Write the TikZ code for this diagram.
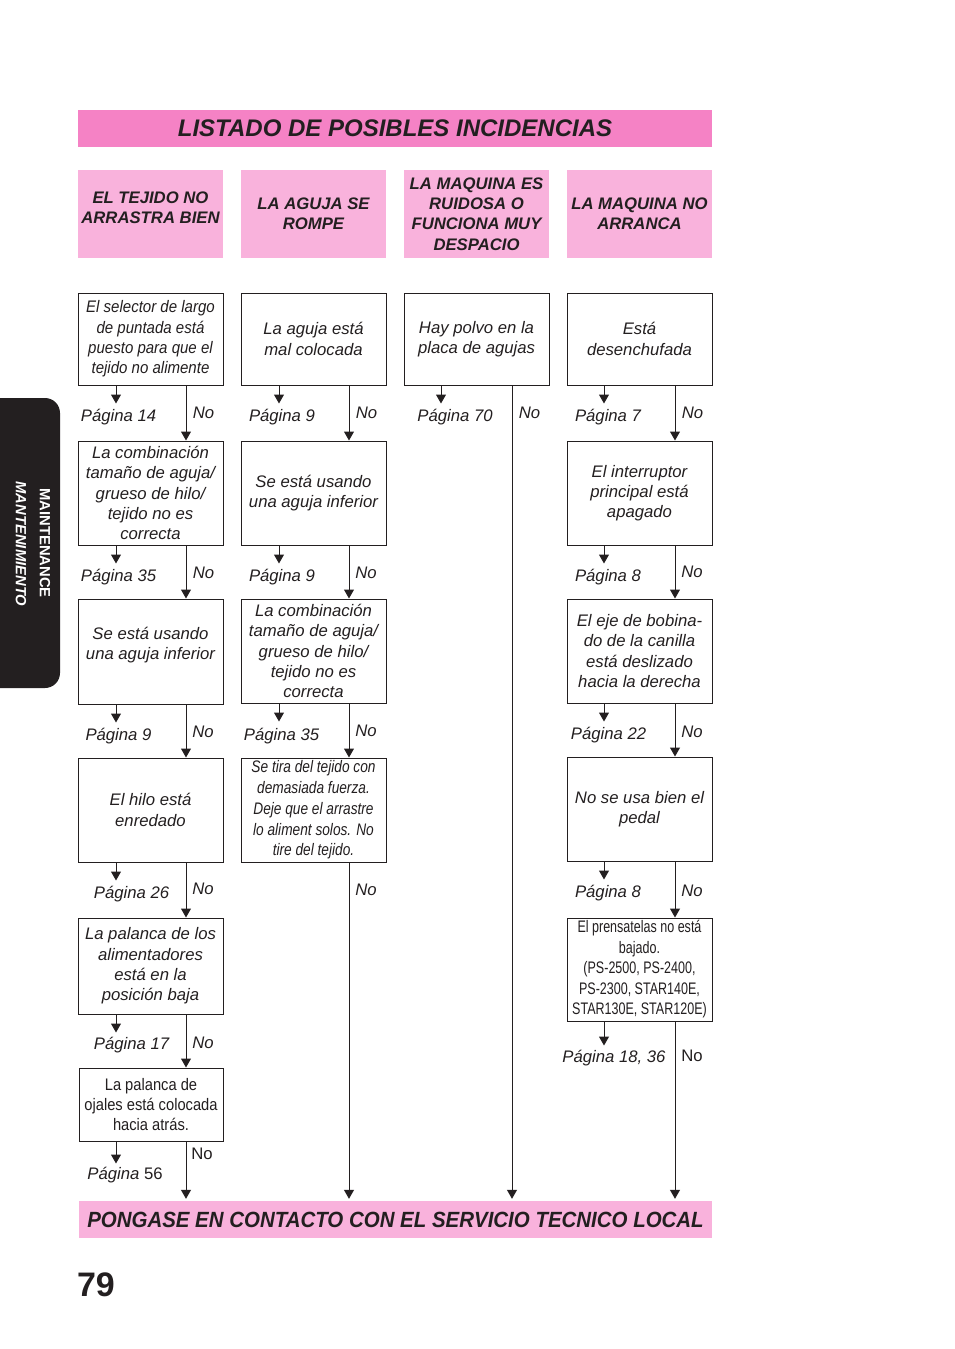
\documentclass[tikz,border=0pt]{standalone}
\usepackage{fontspec}
\setmainfont{Liberation Sans}
\newfontfamily\narrowa[FakeStretch=0.90]{Liberation Sans}
\newfontfamily\narrowb[FakeStretch=0.88]{Liberation Sans}
\newfontfamily\narrowc[FakeStretch=0.82]{Liberation Sans}
\newfontfamily\narrowd[FakeStretch=0.75]{Liberation Sans}
\newfontfamily\narrowbar[FakeStretch=0.93]{Liberation Sans}
\usetikzlibrary{arrows.meta}

\definecolor{titlepink}{RGB}{245,130,197}
\definecolor{headpink}{RGB}{249,178,220}
\definecolor{inkblack}{RGB}{35,31,32}

\newcommand{\bodyfont}{\fontsize{16.7pt}{20.3pt}\selectfont\itshape}
\newcommand{\headfont}{\fontsize{16.7pt}{20.3pt}\selectfont\bfseries\itshape}

\begin{document}
\begin{tikzpicture}[x=1pt, y=-1pt]

    % Stili
    \tikzset{
        box/.style={draw=inkblack, line width=1pt, minimum width=145pt, align=center, inner sep=1pt, text=inkblack, font=\bodyfont},
        head/.style={fill=headpink, minimum width=145pt, minimum height=88pt, align=center, inner sep=0pt, text=inkblack, font=\headfont},
        lab/.style={inner sep=0pt, text=inkblack, font=\bodyfont},
        arr/.style={draw=inkblack, line width=1pt, -{Triangle[width=10pt,length=9pt]}}
    }

    % Pagina
    \fill[white] (0,0) rectangle (954,1349);
    \useasboundingbox (0,0) rectangle (954,1349);

    % Linguetta laterale
    \begin{scope}
        \clip (0,0) rectangle (954,1349);
        \fill[inkblack, rounded corners=15pt] (-30,398) rectangle (60,688);
    \end{scope}
    \node[rotate=-90, text=white, inner sep=0pt, font=\fontsize{14.8pt}{17pt}\selectfont\bfseries] (tabeng) at (45,543) {MAINTENANCE};
    \node[rotate=-90, text=white, inner sep=0pt, font=\fontsize{14.8pt}{17pt}\selectfont\bfseries\itshape] (tabesp) at (21,544) {MANTENIMIENTO};

    % Titolo
    \node[fill=titlepink, minimum width=634pt, minimum height=37pt, inner sep=0pt, text=inkblack, font=\fontsize{24pt}{28pt}\selectfont\bfseries\itshape] (title) at (395,128.5) {LISTADO DE POSIBLES INCIDENCIAS};

    % Intestazioni delle colonne
    \node[head] (ha) at (150.5,214) {EL TEJIDO NO\\ARRASTRA BIEN\\[-8pt]\mbox{}};
    \node[head] (hb) at (313.5,214) {LA AGUJA SE\\ROMPE};
    \node[head] (hc) at (476.5,214) {LA MAQUINA ES\\RUIDOSA O\\FUNCIONA MUY\\DESPACIO};
    \node[head] (hd) at (639.5,214) {LA MAQUINA NO\\ARRANCA};

    % Colonna 1
    \node[box, minimum height=92pt, font={\narrowa\fontsize{16.7pt}{20.3pt}\selectfont\itshape}] (a1) at (150.5,339) {El selector de largo\\de puntada está\\puesto para que el\\tejido no alimente};
    \node[box, minimum height=104pt] (a2) at (150.5,493) {La combinación\\tamaño de aguja/\\grueso de hilo/\\tejido no es\\correcta};
    \node[box, minimum height=105pt] (a3) at (150.5,651.5) {Se está usando\\una aguja inferior\\[-4pt]\mbox{}};
    \node[box, minimum height=104pt] (a4) at (150.5,810) {El hilo está\\enredado};
    \node[box, minimum height=96pt] (a5) at (150.5,966) {La palanca de los\\alimentadores\\está en la\\posición baja};
    \node[box, minimum width=144pt, minimum height=73pt, font={\narrowb\fontsize{16.7pt}{20.3pt}\selectfont}] (a6) at (151,1104.5) {La palanca de\\ojales está colocada\\hacia atrás.};

    % Colonna 2
    \node[box, minimum height=92pt] (b1) at (313.5,339) {La aguja está\\mal colocada};
    \node[box, minimum height=104pt] (b2) at (313.5,493) {Se está usando\\una aguja inferior};
    \node[box, minimum height=104pt] (b3) at (313.5,651) {La combinación\\tamaño de aguja/\\grueso de hilo/\\tejido no es\\correcta};
    \node[box, minimum height=104pt, font={\narrowc\fontsize{16.7pt}{20.7pt}\selectfont\itshape}] (b4) at (313.5,810) {Se tira del tejido con\\demasiada fuerza.\\Deje que el arrastre\\lo aliment solos. No\\tire del tejido.};

    % Colonna 3
    \node[box, minimum height=92pt] (c1) at (476.5,339) {Hay polvo en la\\placa de agujas};

    % Colonna 4
    \node[box, minimum height=92pt] (d1) at (639.5,339) {Está\\desenchufada};
    \node[box, minimum height=104pt] (d2) at (639.5,493) {El interruptor\\principal está\\apagado};
    \node[box, minimum height=104pt] (d3) at (639.5,651) {El eje de bobina-\\do de la canilla\\está deslizado\\hacia la derecha};
    \node[box, minimum height=104pt] (d4) at (639.5,809) {No se usa bien el\\pedal};
    \node[box, minimum height=103pt, font={\narrowd\fontsize{16.7pt}{20.5pt}\selectfont}] (d5) at (639.5,969.5) {El prensatelas no está\\bajado.\\(PS-2500, PS-2400,\\PS-2300, STAR140E,\\STAR130E, STAR120E)};

    % Barra finale
    \node[fill=headpink, minimum width=633pt, minimum height=37pt, inner sep=0pt, text=inkblack, font={\narrowbar\fontsize{22pt}{26pt}\selectfont\bfseries\itshape}] (bar) at (395.5,1219.5) {PONGASE EN CONTACTO CON EL SERVICIO TECNICO LOCAL};

    % Etichette "Página" e "No"
    \node[lab] (pa1) at (118.5,417) {Página 14};
    \node[lab] (na1) at (203.5,413) {No};
    \node[lab] (pa2) at (118.5,577) {Página 35};
    \node[lab] (na2) at (203.5,573) {No};
    \node[lab] (pa3) at (118.5,736) {Página 9};
    \node[lab] (na3) at (203,732) {No};
    \node[lab] (pa4) at (131.5,894) {Página 26};
    \node[lab] (na4) at (203,889) {No};
    \node[lab] (pa5) at (131.5,1045) {Página 17};
    \node[lab] (na5) at (203,1043) {No};
    \node[lab] (pa6) at (125,1175) {Página \upshape 56};
    \node[lab, font=\fontsize{16.7pt}{20.3pt}\selectfont] (na6) at (202,1154) {No};

    \node[lab] (pb1) at (282,417) {Página 9};
    \node[lab] (nb1) at (366.5,413) {No};
    \node[lab] (pb2) at (282,577) {Página 9};
    \node[lab] (nb2) at (366,573) {No};
    \node[lab] (pb3) at (281.5,736) {Página 35};
    \node[lab] (nb3) at (366,731) {No};
    \node[lab] (nb4) at (366,890) {No};

    \node[lab] (pc1) at (455,417) {Página 70};
    \node[lab] (nc1) at (529.5,413) {No};

    \node[lab] (pd1) at (608,417) {Página 7};
    \node[lab] (nd1) at (692.5,413) {No};
    \node[lab] (pd2) at (608,577) {Página 8};
    \node[lab] (nd2) at (692,572) {No};
    \node[lab] (pd3) at (608.5,735) {Página 22};
    \node[lab] (nd3) at (692,732) {No};
    \node[lab] (pd4) at (608,893) {Página 8};
    \node[lab] (nd4) at (692,891) {No};
    \node[lab] (pd5) at (614,1058) {Página 18, 36};
    \node[lab, font=\fontsize{16.7pt}{20.3pt}\selectfont] (nd5) at (692,1056) {No};

    % Numero di pagina
    \node[inner sep=0pt, text=inkblack, font=\fontsize{34pt}{40pt}\selectfont\bfseries] (pagenum) at (96,1285) {79};

    % Ascisse delle frecce
    \coordinate (lefta) at (116,0);  \coordinate (righta) at (186,0);
    \coordinate (leftb) at (279,0);  \coordinate (rightb) at (349,0);
    \coordinate (leftc) at (441,0);  \coordinate (rightc) at (512,0);
    \coordinate (leftd) at (604,0);  \coordinate (rightd) at (675,0);

    % Frecce "No" (verso il riquadro successivo)
    \foreach \i/\j in {1/2,2/3,3/4,4/5,5/6}
        \draw[arr] (a\i.south -| righta) -- (a\j.north -| righta);
    \foreach \i/\j in {1/2,2/3,3/4}
        \draw[arr] (b\i.south -| rightb) -- (b\j.north -| rightb);
    \foreach \i/\j in {1/2,2/3,3/4,4/5}
        \draw[arr] (d\i.south -| rightd) -- (d\j.north -| rightd);
    \draw[arr, shorten >=2pt] (a6.south -| righta) -- (bar.north -| righta);
    \draw[arr, shorten >=2pt] (b4.south -| rightb) -- (bar.north -| rightb);
    \draw[arr, shorten >=2pt] (c1.south -| rightc) -- (bar.north -| rightc);
    \draw[arr, shorten >=2pt] (d5.south -| rightd) -- (bar.north -| rightd);

    % Frecce corte (rimando alla pagina)
    \foreach \i in {1,...,5}
        \draw[arr] (a\i.south -| lefta) -- ++(0,18);
    \draw[arr] (a6.south -| lefta) -- ++(0,22);
    \foreach \i in {1,2,3}
        \draw[arr] (b\i.south -| leftb) -- ++(0,18);
    \draw[arr] (c1.south -| leftc) -- ++(0,18);
    \foreach \i in {1,...,4}
        \draw[arr] (d\i.south -| leftd) -- ++(0,18);
    \draw[arr] (d5.south -| leftd) -- ++(0,24);

\end{tikzpicture}
\end{document}
